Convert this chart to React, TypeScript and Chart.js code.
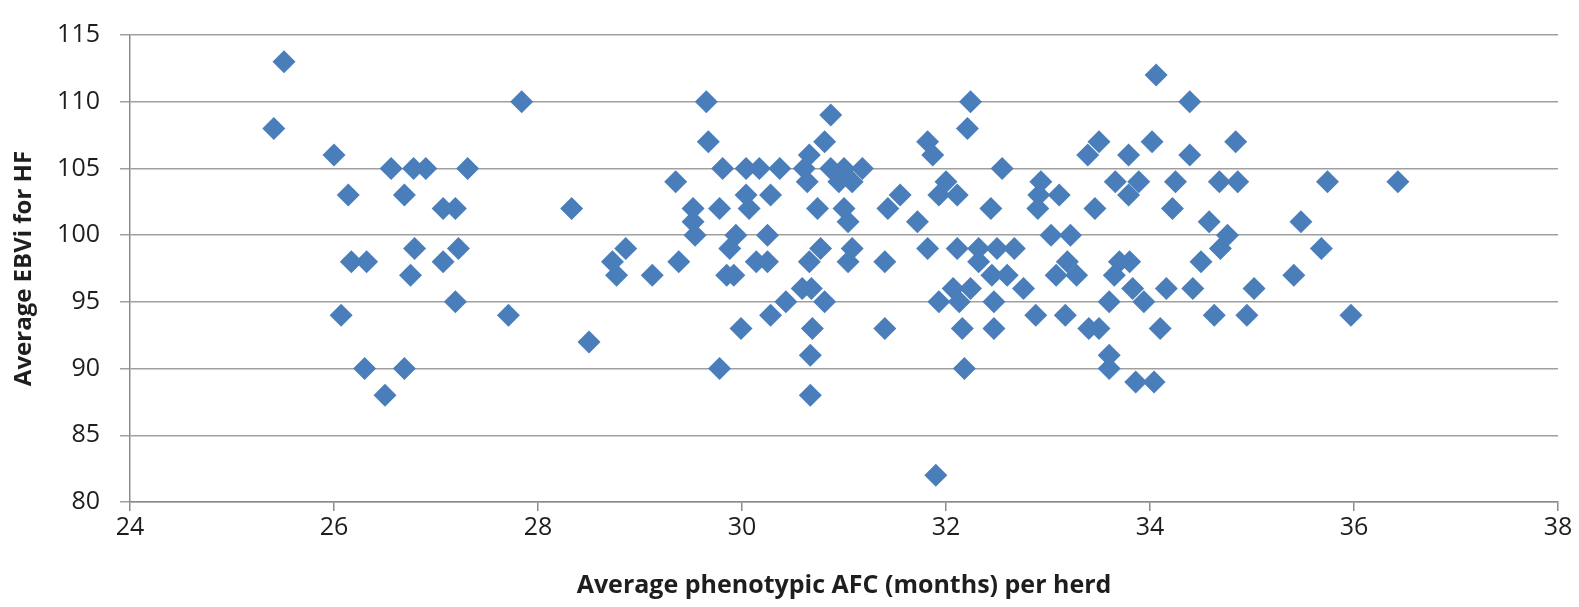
import { useEffect, useRef } from 'react';
import { Chart, registerables } from 'chart.js';

Chart.register(...registerables);

// Average phenotypic AFC (months) per herd
const afcMonths: number[] = [
  25.41, 25.51, 26.0, 26.14, 26.17, 26.32, 26.07, 26.3, 26.5, 26.56,
  26.69, 26.69, 26.75, 26.79, 26.78, 26.9, 27.07, 27.07, 27.19, 27.22,
  27.19, 27.31, 27.71, 27.84, 28.33, 28.5, 28.73, 28.77, 28.86,
  29.12, 29.38, 29.35, 29.65, 29.67, 29.52, 29.52, 29.54, 29.78, 29.81,
  30.04, 30.17, 30.37, 30.04, 30.07, 30.28, 29.94, 29.88, 30.25, 29.85,
  29.92, 30.14, 30.25, 30.43, 30.28, 29.99, 29.78,
  30.66, 30.61, 30.64, 30.74, 30.77, 30.66, 30.59, 30.68, 30.69, 30.67,
  30.67, 30.81, 30.87, 30.87, 31.0, 31.18, 30.95, 31.08, 31.0, 31.04,
  31.08, 31.04, 30.81, 31.43, 31.55, 31.4, 31.4,
  31.72, 31.82, 31.87, 31.82, 31.93, 31.9, 31.93, 32.0, 32.11, 32.07,
  32.11, 32.13, 32.16, 32.18, 32.24, 32.21, 32.24, 32.32, 32.32, 32.45,
  32.47, 32.47, 32.5, 32.55, 32.44, 32.6, 32.67, 32.76, 32.88, 32.93,
  32.91, 32.9, 33.03, 33.08, 33.11, 33.17, 33.19, 33.22, 33.28, 33.39,
  33.5, 33.46, 33.4, 33.5, 33.6, 33.6, 33.6, 33.65, 33.7, 33.8,
  33.66, 33.79, 33.79, 33.89, 33.83, 33.94, 33.86, 34.04, 34.02, 34.06,
  34.1, 34.16, 34.22, 34.25, 34.39, 34.39, 34.42, 34.5, 34.58, 34.63,
  34.68, 34.69, 34.76, 34.84, 34.86, 34.95, 35.02, 35.41, 35.48, 35.68,
  35.74, 35.97, 36.43,
];

// Average EBVi for HF
const ebvi: number[] = [
  108, 113, 106, 103, 98, 98, 94, 90, 88, 105,
  103, 90, 97, 99, 105, 105, 102, 98, 102, 99,
  95, 105, 94, 110, 102, 92, 98, 97, 99,
  97, 98, 104, 110, 107, 102, 101, 100, 102, 105,
  105, 105, 105, 103, 102, 103, 100, 99, 100, 97,
  97, 98, 98, 95, 94, 93, 90,
  106, 105, 104, 102, 99, 98, 96, 96, 93, 91,
  88, 107, 109, 105, 105, 105, 104, 104, 102, 101,
  99, 98, 95, 102, 103, 98, 93,
  101, 107, 106, 99, 95, 82, 103, 104, 103, 96,
  99, 95, 93, 90, 96, 108, 110, 99, 98, 97,
  95, 93, 99, 105, 102, 97, 99, 96, 94, 104,
  103, 102, 100, 97, 103, 94, 98, 100, 97, 106,
  107, 102, 93, 93, 95, 91, 90, 97, 98, 98,
  104, 106, 103, 104, 96, 95, 89, 89, 107, 112,
  93, 96, 102, 104, 110, 106, 96, 98, 101, 94,
  104, 99, 100, 107, 104, 94, 96, 97, 101, 99,
  104, 94, 104,
];

const xMin = 24;
const xMax = 38;
const xStep = 2;
const yMin = 80;
const yMax = 115;
const yStep = 5;

const xTitle = 'Average phenotypic AFC (months) per herd';
const yTitle = 'Average EBVi for HF';

export default function App() {
  const canvasRef = useRef<HTMLCanvasElement>(null);

  useEffect(() => {
    document.body.style.margin = '0';
    document.body.style.overflow = 'hidden';
    const canvas = canvasRef.current;
    if (!canvas) return;
    const points = afcMonths.map((x, i) => ({ x, y: ebvi[i] }));
    const chart = new Chart(canvas, {
      type: 'scatter',
      data: {
        datasets: [
          {
            data: points,
            pointStyle: 'rectRot',
            pointRadius: 11.5,
            pointHoverRadius: 11.5,
            backgroundColor: '#4a7ebb',
            borderColor: '#4a7ebb',
            borderWidth: 0,
          },
        ],
      },
      options: {
        animation: false,
        responsive: false,
        maintainAspectRatio: false,
        layout: { padding: { top: 30, right: 21, bottom: 0, left: 0 } },
        plugins: {
          legend: { display: false },
          tooltip: { enabled: false },
        },
        scales: {
          x: {
            type: 'linear',
            min: xMin,
            max: xMax,
            ticks: {
              stepSize: xStep,
              color: '#1e1e1e',
              padding: 2,
              font: { family: 'Open Sans', size: 25 },
            },
            grid: {
              drawOnChartArea: false,
              drawTicks: true,
              tickLength: 9,
              color: '#8c8c8c',
              lineWidth: 1.5,
            },
            border: { color: '#8c8c8c', width: 1.5 },
            title: {
              display: true,
              text: xTitle,
              color: '#1e1e1e',
              font: { family: 'Open Sans', size: 25, weight: 'bold' },
              padding: { top: 4, bottom: 6 },
            },
            afterFit: (scale: any) => {
              scale.height = 105;
            },
          },
          y: {
            type: 'linear',
            min: yMin,
            max: yMax,
            ticks: {
              stepSize: yStep,
              color: '#1e1e1e',
              padding: 20,
              font: { family: 'Open Sans', size: 25 },
            },
            grid: {
              color: '#a0a0a0',
              lineWidth: 1.5,
              tickLength: 10,
            },
            border: { color: '#8c8c8c', width: 1.5 },
            title: {
              display: true,
              text: yTitle,
              color: '#1e1e1e',
              font: { family: 'Open Sans', size: 24, weight: 'bold' },
              padding: { top: 10, bottom: 4 },
            },
            afterFit: (scale: any) => {
              scale.width = 130;
            },
          },
        },
      },
    });
    return () => chart.destroy();
  }, []);

  return (
    <div style={{ width: 1579, height: 607 }}>
      <canvas ref={canvasRef} width={1579} height={607} style={{ display: 'block' }} />
    </div>
  );
}
